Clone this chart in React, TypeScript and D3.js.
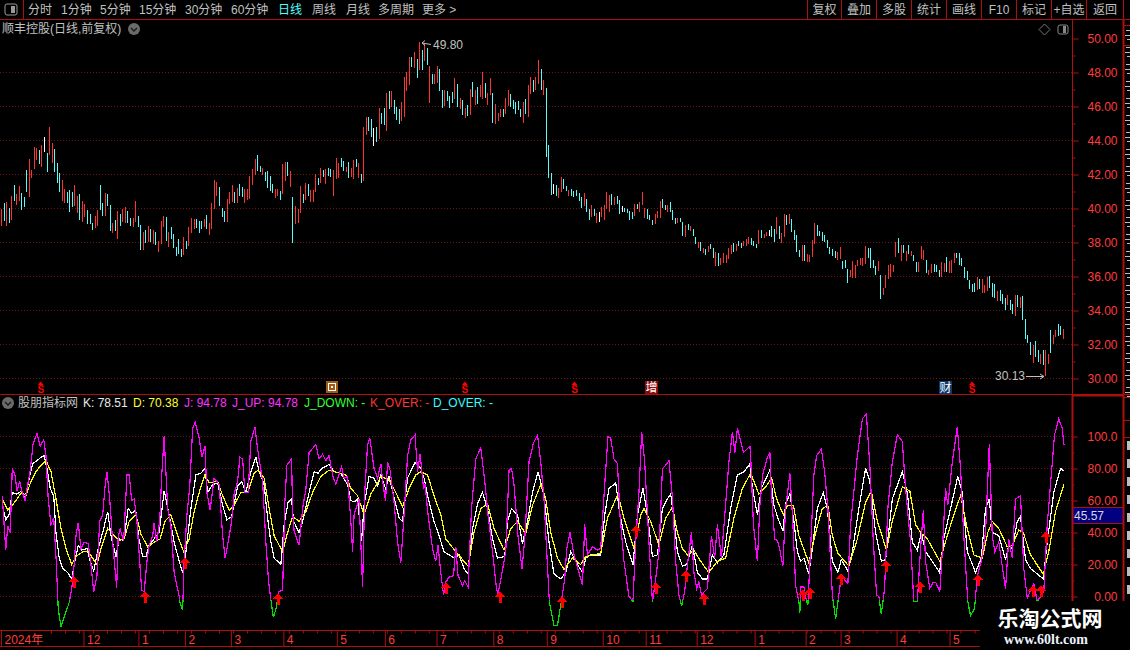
import React, { useEffect, useRef } from 'react';
import * as d3 from 'd3';

const WIDTH = 1130;
const HEIGHT = 650;

// daily bars: high, low, and r(ed) / c(yan) / w(hite) for the direction
const barHigh = [
  40.00,40.33,40.37,40.02,40.73,41.37,40.86,41.31,40.92,40.67,
  42.25,42.92,42.29,43.61,43.57,43.47,43.71,44.20,43.27,44.78,
  43.84,43.49,42.65,42.10,41.67,41.12,40.98,41.08,40.98,41.37,
  40.73,40.86,40.43,40.27,39.94,39.65,39.16,39.55,39.94,41.37,
  40.33,40.92,40.86,40.20,39.16,39.35,39.88,39.65,40.00,40.08,
  39.88,
  39.45,39.45,40.43,39.55,39.02,38.63,38.73,38.96,38.78,38.73,
  38.60,38.08,39.25,39.55,39.50,38.60,38.90,38.50,37.73,38.20,
  37.60,38.30,38.08,38.90,39.43,39.37,39.37,39.25,39.25,39.37,
  39.60,39.14,40.30,41.67,41.55,41.25,40.02,39.84,40.55,40.96,
  41.37,40.96,41.20,41.43,41.25,41.14,41.14,41.90,42.31,
  42.90,43.14,42.49,42.37,42.14,42.20,41.90,41.43,41.14,41.14,
  41.02,42.61,42.73,42.73,42.20,40.67,40.14,39.96,41.31,40.84,
  41.49,41.43,41.08,41.08,42.02,41.78,42.37,42.25,42.31,42.37,
  42.31,42.25,42.96,42.67,42.96,42.78,42.43,42.73,42.37,42.84,
  42.90,42.67,42.02,44.78,45.37,45.37,45.25,44.73,44.78,45.90,
  45.61,45.90,46.78,46.90,46.90,46.37,45.96,45.84,46.25,47.73,
  48.02,48.90,48.90,49.20,48.78,49.80,49.31,49.67,49.43,48.37,
  47.90,47.90,48.37,48.20,46.96,46.96,46.90,46.61,46.84,47.67,
  47.31,46.49,46.37,45.90,46.08,47.02,47.43,46.96,47.14,47.25,
  48.02,47.37,46.78,47.67,46.78,46.14,45.61,45.84,45.84,46.49,
  46.96,46.73,46.37,46.25,46.31,45.84,46.25,46.43,47.25,47.73,
  47.55,47.73,48.73,
  48.20,47.55,47.08,43.73,42.08,41.43,41.37,41.20,41.84,41.73,
  41.31,41.08,41.14,41.02,41.08,40.90,40.67,40.90,40.55,39.96,
  40.20,39.96,39.73,39.78,40.08,40.20,40.96,40.78,40.84,40.67,
  40.73,40.49,40.14,40.02,39.96,39.84,39.78,40.25,40.25,40.37,
  40.96,40.02,39.96,39.61,39.31,39.67,39.84,40.43,40.55,40.20,
  40.20,40.37,39.90,39.43,39.43,39.43,39.20,39.02,39.08,38.96,
  38.78,38.31,38.02,38.02,37.67,37.61,37.78,37.90,37.67,37.43,
  37.37,37.08,37.37,37.25,37.67,37.84,37.96,37.90,38.08,37.96,
  38.08,38.20,38.31,38.25,38.08,37.90,38.73,38.73,38.49,38.61,
  38.73,38.96,38.78,39.49,38.96,38.55,39.67,39.61,39.67,39.37,
  38.73,38.43,37.55,
  37.84,37.84,37.31,37.25,38.12,39.14,39.02,38.67,38.61,38.43,
  38.14,37.73,37.61,37.49,37.43,37.73,36.90,37.00,36.43,36.37,
  36.90,36.67,36.96,37.08,37.08,37.78,37.67,37.67,36.96,36.61,
  36.90,36.08,35.31,36.08,36.67,36.73,36.67,38.02,38.25,37.88,
  37.84,37.49,37.84,37.49,37.25,36.84,36.84,37.78,37.55,36.96,
  36.37,36.73,36.73,36.67,36.37,36.84,36.78,37.14,36.90,36.96,
  37.37,37.37,37.37,37.08,36.55,36.31,35.78,35.55,35.61,35.96,
  35.84,35.84,35.49,35.96,36.02,35.61,35.55,35.14,35.20,34.96,
  34.73,34.90,34.61,34.37,34.90,34.90,34.78,34.84,33.49,32.55,
  32.14,31.96,32.20,31.67,31.43,31.67,31.67,31.43,32.84,32.55,
  32.84,33.20,33.08,32.90,
];
const barLow = [
  38.96,39.25,38.96,39.16,39.35,40.43,40.20,40.43,39.90,40.08,
  40.96,40.69,41.80,42.33,42.88,42.59,42.43,43.33,42.14,43.12,
  42.69,42.14,41.51,40.98,40.47,40.33,40.33,39.80,40.08,40.14,
  39.71,39.35,39.22,39.49,39.10,39.10,38.76,38.86,38.96,39.94,
  39.55,39.55,40.14,38.67,38.57,38.67,38.20,38.96,39.22,39.16,
  39.16,
  39.00,38.92,39.20,38.92,37.55,37.55,37.96,38.02,38.02,37.92,
  37.84,37.43,37.92,38.92,38.08,37.73,38.20,37.67,37.20,37.30,
  37.14,37.25,37.60,37.78,38.55,38.78,38.84,38.55,38.78,38.90,
  38.78,38.43,38.78,39.96,40.73,40.14,39.50,39.20,39.20,40.25,
  40.37,40.30,40.30,40.73,40.67,40.30,40.50,40.55,41.37,
  42.00,42.20,42.14,41.96,41.61,41.20,41.02,40.90,40.61,40.73,
  40.49,40.84,41.61,41.90,41.25,37.98,39.08,39.14,39.73,40.31,
  40.49,40.73,40.37,40.37,40.96,41.37,41.49,41.84,41.43,41.90,
  41.84,40.73,41.73,41.78,42.43,42.20,42.14,41.78,41.84,41.73,
  42.43,41.78,41.49,41.61,44.31,44.55,44.20,43.67,43.90,44.08,
  44.96,44.90,44.55,45.84,45.96,45.55,45.20,44.96,45.14,45.37,
  46.90,47.25,48.31,48.25,47.67,48.14,48.14,48.67,48.43,46.20,
  47.31,47.31,47.37,46.90,45.90,46.02,46.31,45.90,46.20,46.43,
  45.96,45.84,45.49,45.31,45.43,45.49,46.55,46.08,46.14,46.55,
  46.43,46.49,46.08,46.67,45.02,44.96,45.14,45.37,45.37,45.55,
  46.02,45.96,45.84,45.55,45.78,45.37,45.02,45.55,45.37,46.73,
  46.84,46.96,47.31,
  46.96,46.67,43.02,41.78,40.78,40.84,40.73,40.61,40.96,41.14,
  41.02,40.73,40.73,40.67,40.73,40.43,40.02,40.14,39.78,39.31,
  39.49,39.55,39.14,39.20,39.49,39.31,39.96,39.78,40.20,40.20,
  40.25,39.67,39.78,39.78,39.73,39.31,39.37,39.55,39.96,39.78,
  40.20,39.43,39.37,39.31,39.02,39.08,39.43,39.43,40.02,39.90,
  39.78,39.78,39.31,39.08,39.14,39.20,38.37,38.31,38.73,38.67,
  38.37,37.90,37.67,37.49,37.37,37.25,37.43,37.61,37.08,36.61,
  36.61,36.67,36.78,36.78,37.02,37.31,37.43,37.49,37.78,37.67,
  37.78,37.78,37.90,37.84,37.78,37.67,37.90,38.25,38.25,38.37,
  38.37,38.31,38.02,38.49,38.20,37.96,38.31,39.02,39.08,38.61,
  38.14,37.43,37.14,
  36.90,36.90,36.84,36.84,37.14,37.90,38.37,38.37,38.08,38.02,
  37.67,37.35,37.20,37.08,36.96,37.02,36.43,36.51,35.61,35.96,
  35.90,35.90,36.61,36.67,36.61,36.73,37.08,36.49,36.49,36.08,
  36.31,34.67,34.90,35.31,35.84,35.96,36.25,37.14,37.37,36.90,
  37.37,36.90,37.31,37.20,36.90,36.25,36.25,37.02,36.96,36.20,
  36.08,36.20,36.25,36.25,35.96,35.96,36.25,36.25,36.20,36.20,
  36.78,37.08,36.67,36.61,35.90,35.78,35.25,35.08,35.08,35.20,
  35.25,35.02,35.02,35.14,35.31,34.78,34.73,34.55,34.55,34.37,
  34.02,34.31,34.02,33.78,33.67,34.20,34.14,33.43,32.31,32.08,
  31.37,30.90,31.25,30.96,30.84,30.78,30.13,30.84,31.49,32.02,
  32.43,32.49,32.55,32.31,
];
const barKind = (
  'rcrcrcrrcc' + 'crrrrcrwcr' + 'rcccrrcccr' + 'rcrrcccrrc' + 'crccrcrcrr' + 'c' +
  'crrccrcrcr' + 'crrrcrcccc' + 'crcrrrcccr' + 'crrrrcccrr' + 'rcrccrrrr' +
  'rccrccccrr' + 'crrcrcrrrc' + 'rcrrrcrcrc' + 'crrrccrcrr' + 'crcrrccwcr' + 'ccrcrcccrr' +
  'rrcrcrcrcr' + 'crrccrcccr' + 'crcrcrcrcr' + 'rcrrcrrrcr' + 'rcccccrcrr' + 'crr' +
  'crcccwcrrc' + 'crcccccrcc' + 'rcrwrrrrcr' + 'ccwccccrcr' + 'rrcccrrrcc' + 'rcccrccrcr' +
  'ccrcrcrccr' + 'crrrrrcrcc' + 'rrrcccrcrr' + 'wccrcrrcrc' + 'ccc' +
  'rcrrrrcccc' + 'ccccrrcccr' + 'rrrrrrcccc' + 'rcrrrrrrcr' + 'crcrccrrrc' + 'rrcccrrcrr' +
  'rccccccccr' + 'crrrcccrcc' + 'crccrcrccc' + 'crccrcrrcr' + 'rccr'
).split('');

const priceMajor = [30, 32, 34, 36, 38, 40, 42, 44, 46, 48, 50];
const priceMinor = [31, 33, 35, 37, 39, 41, 43, 45, 47, 49];
const kdjMajor = [0, 20, 40, 60, 80, 100];
const kdjMinor = [10, 30, 50, 70, 90];

// month starts on the date axis, as session numbers of the indicator pane
const monthBars = [0, 33, 55, 73.6, 92, 113, 134.4, 153.6, 174.3, 197, 218.4, 240.8, 258, 278.4, 301.6, 322, 336, 358.4, 379.6];
const monthLabels = ['2024年', '12', '1', '2', '3', '4', '5', '6', '7', '8', '9', '10', '11', '12', '1', '2', '3', '4', '5'];

// turning points of the three KDJ lines: [session, value]
const jPoints: [number, number][] = [
  [0.5,63],[1.9,29],[2.7,44],[3.7,40],[4.5,80],[5.6,76],[6.4,66],[7.5,72],[8.3,66],[9.6,60],[11.7,79],[12.8,95],[14.4,102],[15.7,94],[17.1,98],[18,88],[18.9,61],[20,45],[21.1,49],[22.1,22],[22.9,-7.5],[24,-19],[26,-9.6],[27.3,-3.75],[28.3,5],[29.3,20],[30,38],[30.9,46],[32,30],[33.3,34],[34.9,33],[36,20],[37.1,3],[38.4,13],[39.5,47],[40.7,51],[41.6,68],[42.4,78],[43.5,61],[44.7,34],[45.6,17.5],[46.3,5.4],[46.9,38],[47.7,42],[49.1,35],[50.4,76],[51.3,76],[52.3,60],[53.3,61],[54.4,47],[55.5,22],[56.3,4],[57.3,3],[58.4,22],[59.3,32],[60.7,38],[61.3,46],[62.3,34],[63.5,47],[64.4,78],[65.3,100],[66.7,55],[68,44],[69.3,15],[71.3,0],[71.6,-3.6],[72.7,-8.5],[73.3,22],[74.4,51],[75.5,68],[76.7,105],[77.7,109],[79.3,99],[80.4,87],[81.6,94],[82.4,65],[83.7,54],[85.3,74],[87.3,70],[88.7,38],[89.7,24],[90.9,34],[92.3,47],[93.3,64],[94.7,72],[95.6,87],[96.7,86],[97.6,65],[98.9,65],[100,97],[101.6,106],[102.7,92],[104.7,72],[106,34],[107.1,9],[108.3,-5.4],[109,-13],[110.1,-7.5],[111.1,3],[112.7,4],[113.6,59],[114.4,82],[116.3,86],[116.7,53],[117.3,41],[119.3,32],[120.7,55],[122,67],[123.3,90],[126,95],[127.3,86],[128.7,89],[130,85],[131.3,88],[132.7,76],[134,70],[136.3,81],[137.3,74],[138.7,75],[140,47],[140.7,28],[141.3,51],[143.3,61],[144.7,6],[145.6,66],[146.7,95],[147.6,99],[149.3,80],[150.7,74],[152,83],
  [153.1,67.5],[153.9,60],[154.7,84],[155.7,79],[157.3,59],[158.7,34],[160,21],[161.3,51],[162.7,88],[164,98],[165.7,101],[166.7,78],[167.7,89],[169.1,67.5],[169.7,70],[170.9,51],[172.7,30],[174,22],[174.9,32],[176,15],[177.1,1],[178,9],[179.3,12],[181.1,13],[182,31],[182.9,13],[184.7,7],[185.6,10],[186.9,6],[188.3,55],[190,86],[192,93],[193.6,72],[194.9,51],[196.7,28],[198.3,5],[198.9,2],[199.7,8],[202,28],[203.3,79],[204.3,80],[205.3,70],[206.9,38],[208.5,17.5],[209.6,36],[211.3,84],[213.1,96],[214.7,101],[216,84],[217.3,61],[219.3,1],[219.5,-3.75],[221.3,-18],[222.7,-18],[224,-5.4],[225.6,11],[226.4,30],[227.7,40],[229.3,26],[231.3,15],[232.7,7],[233.6,45],[234.7,26],[236.7,31],[238.7,29],[240,30],[241.6,70],[242.9,100],[244,99],[245.3,86],[246.7,83],[247.7,51],[249.3,22],[251.3,0],[252.9,-3],[254,34],[255.3,65],[256.4,103],[257.6,84],[259.3,34],[260.7,-3.3],[262,11],[263.3,28],[264.7,80],[266,82],[267.3,85],[268.7,62],[270,22],[271.3,1],[272.4,-6],[273.6,3],[274.7,20],[276.3,40],[277.3,15],[278.4,5],[279.3,9],[280.3,1],[282.7,5],[284.3,38],[285.6,24],[286.7,45],[288.3,24],[291.3,84],[292.7,103],[293.7,90],[294.7,105],[297.1,90],[299.7,94],
  [300,88],[301.1,45],[302.7,22],[303.7,57],[304.8,76],[306.7,87],[307.7,90],[308.3,65],[309.6,36],[310.7,35],[311.7,29],[312.9,19],[314,55],[315.7,77],[316.8,49],[318,7],[319.3,-3.3],[319.7,-10],[320,6],[321.3,6],[322.4,-3.3],[322.9,-5.4],[324,30],[325.3,76],[326.4,88],[328.3,92],[329.6,78],[330.9,55],[332.7,1],[334,-14],[335.3,1],[336.3,13],[338.9,8],[340,45],[342.7,88],[344.7,111],[346.3,114],[347.7,82],[349.1,34],[350.4,1],[351.3,0],[352.3,-11],[353.6,5],[354.9,55],[356.7,84],[358.7,101],[360.7,97],[362,67.5],[364,34],[365.3,-3.3],[366.7,-3.3],[368,30],[369.1,54],[370,22],[371.7,5],[373.1,9],[374,9],[375.7,3],[376.7,28],[378,67.5],[378.9,57],[380.7,84],[382.7,106],[384,80],[385.3,38],[386.9,-3.3],[388,-12],[389.6,-7.5],[390.7,13],[392.3,22],[394,40],[395.5,95],[396.7,38],[397.7,28],[399.3,34],[402,5],[403.3,36],[404.7,24],[406,61],[408,63],[409.3,17.5],[410.7,-1],[412.3,5],[413.3,8],[414.7,-3],[417.3,3],[418.7,45],[420,70],[421.6,101],[423.3,111],[424.7,105],[425.4,94.78],
];
const kPoints: [number, number][] = [
  [0.5,57],[1.9,48],[3.2,51],[4.5,65],[6.4,64],[8.3,66],[9.6,61],[11.3,74],[12.7,83],[14.4,85],[16,87],[17.3,88],[18.4,80],[19.7,67.5],[21.1,63],[22,40],[23.3,24],[24.7,17.5],[26.7,15],[28.3,11],[29.3,20],[30.9,32],[32.3,29],[34.4,30],[35.7,22],[37.1,16],[38.9,30],[40.7,40],[42.7,53],[44,38],[46,25],[47.3,36],[49.1,35],[50.9,55],[52.3,52],[53.9,54],[55.2,36],[56.7,25],[58,25],[59.3,32],[61.3,36],[63.3,40],[65.3,66],[67.3,51],[69.3,34],[71.3,22],[72.7,15],[74,28],[76,55],[78,76],[80,77],[81.6,80],[82.7,65],[84.7,70],[86.7,71],[88.7,57],[90.4,48],[92.3,50],[94.7,69],[96.3,72],[98,65],[100,78],[102,87],[103.3,78],[105.3,70],[106.7,49],[108,34],[109.3,24],[112,20],[113.3,45],[114.9,59],[116.3,61],[117.1,47],[119.3,40],[120.7,47],[122.7,61],[125.3,78],[126.9,77],[128.3,80],[131.3,82.5],[133.3,78],[136,77],[138.7,70],[140,60],[141.3,59],[142.7,61],[144.3,35],[145.3,57],[147.3,75],[149.3,74],[150.7,69],
  [152,76],[153.9,67.5],[155.3,75],[157.3,62],[159.3,49],[160.7,47],[162.7,74],[165.7,84],[168,80],[169.3,74],[171.3,59],[173.3,47],[175.3,38],[177.3,28],[179.3,26],[181.6,24],[183.3,26],[185.3,17.5],[186.9,14],[188.7,42.5],[190.7,58],[192.7,65],[194.7,55],[196.7,36],[198.7,24],[201.6,25],[202.7,47],[204.3,55],[206.7,51],[208.7,33],[210.7,47],[212.7,65],[214.9,78],[217.3,63],[219.3,34],[221.3,14],[224,11],[226,15],[228,28],[230.7,20],[232.7,15],[234,24],[236,26],[240,26],[241.6,51],[243.3,67.5],[246,71],[247.7,51],[250,34],[252.9,20],[254.7,51],[256.9,68],[258.7,51],[260.7,25],[262.7,26],[264.7,55],[266.7,61],[268,64],[269.3,49],[270.7,28],[272.7,19],[274.4,20],[276.7,32],[278.7,15],[280.7,11],[282.7,11],[284.7,26],[286.7,21],[289.3,26],[292,55],[294.7,76],[297.3,78],[299.7,83],
  [300,76],[301.3,63],[302.7,51],[304.3,67.5],[307.7,79],[309.3,57],[310.9,49],[312.9,41],[314,58],[315.7,64],[317.3,47],[318.7,28],[320,22],[321.3,24],[323.3,14],[324.7,30],[326.7,55],[329.1,65],[330.7,55],[332.7,22],[334.9,15],[336.3,23],[338.9,16],[340.7,28],[343.3,55],[346,80],[347.7,72],[350,40],[352.3,22],[354,23],[356.7,61],[360.7,78],[362.7,65],[364.7,34],[366.7,29],[368.3,40],[370,28],[372.7,22],[375.6,15],[377.3,36],[380,55],[382.9,75],[384.7,65],[386.7,28],[390,15],[392.3,24],[394,55],[395.5,61],[396.7,40],[399.3,38],[402,23],[403.3,32],[404.7,30],[406.7,47],[408,50],[410,23],[412,17.5],[414,15],[417.1,11],[418.7,34],[421.3,65],[424,80],[425.4,78.51],
];
const dPoints: [number, number][] = [
  [0.5,61],[2.7,54],[4.5,57],[6.4,61],[8.3,65],[10,63],[12,72],[14,78],[16,82],[18,85],[20,78],[22,61],[24,42.5],[26,30],[28.3,20],[30,25],[32.7,28],[34.9,28],[38.4,20],[40,30],[42.7,42.5],[45.3,38],[47.3,35],[49.3,36],[51.3,47],[54,51],[56,39],[58.7,31],[61.3,34],[63.7,36],[65.6,47],[68,51],[70.7,38],[73.1,28],[75.3,36],[77.3,53],[79.3,65],[81.6,76],[83.3,71],[86.7,72],[88.7,63],[91.3,54],[93.3,57],[96,65],[98.7,65],[101.3,77],[102.9,79],[105.3,74],[107.3,55],[109.3,38],[112.7,28],[114.7,40],[116.7,50],[119.3,47],[122,53],[124.7,65],[128,75],[131.3,79],[134.7,77.5],[138,76],[140,67.5],[142.7,63],[145.3,51],[148,64],[150.7,71],
  [152,75],[155.3,73],[158,65],[160.7,56],[163.3,67.5],[166,76],[168,78],[170.7,76],[173.3,63],[176,51],[178,36],[182,28],[186.9,19],[189.3,40],[192,55],[194.7,58],[197.3,42.5],[201.3,29],[204,42.5],[206.7,47],[210,39],[212.7,57],[216,70],[218,61],[220,40],[222.7,24],[225.3,17],[228.7,24],[232,20],[234,25],[240,27],[242.7,49],[246.9,64],[249.3,49],[253.3,30],[256,51],[257.3,55],[260,47],[263.3,32],[266,49],[268.7,56],[270.7,40],[272.7,30],[274.7,26],[277.3,29],[280,22],[283.3,15],[286.7,22],[290,24],[293.3,49],[296.7,67.5],[300,77],
  [303.3,64],[306,68.5],[308.4,74],[310.4,61],[313.1,51],[314.7,57],[317.1,57],[319.3,38],[323.3,21],[326,40],[328.7,55],[330.9,57],[332.7,38],[334.9,27],[339.3,19],[342.7,36],[346,59],[348.3,66],[350.7,47],[354.4,29],[356.7,47],[360.7,68.5],[363.7,66],[366,45],[368,40],[370.7,36],[375.7,22],[378.7,38],[381.3,51],[384,63],[386.7,42.5],[389.3,26],[392.7,24],[394.9,40],[396.7,47],[399.3,42.5],[402.7,31],[404.7,32],[407.3,41.5],[409.1,40],[412,26],[417.1,14],[419.3,28],[422,53],[425.4,70.38],
];

// buy signals: session and the indicator value at the arrow tip
const arrowBars = [29.1, 57.5, 73.5, 111, 177.9, 199.6, 224.7, 254.3, 262.3, 274.3, 281.5, 320.9, 323.9, 336.3, 354.3, 367.6, 391, 413, 416.3, 418.3];
const arrowValues = [12.7, 3.5, 24.6, 2.3, 9, 3.5, 0.2, 45, 9, 16.5, 2.3, 5, 6, 14.4, 22.7, 9.6, 14, 7, 7, 41];

const dividendBars = [15.9, 185.6, 229.5, 388.6];
const toolbarLeft: [string, number][] = [['分时', 28], ['1分钟', 61], ['5分钟', 100], ['15分钟', 139], ['30分钟', 185], ['60分钟', 231], ['周线', 312], ['月线', 346], ['多周期', 378], ['更多 >', 422]];
const toolbarRight = ['复权', '叠加', '多股', '统计', '画线', 'F10', '标记', '+自选', '返回'];
const toolbarEdges = [807, 841, 876, 911, 946, 981, 1016, 1051, 1086, 1123];
const headerItems: [string, number, string][] = [
  ['K: 78.51', 83, '#e8e8e8'], ['D: 70.38', 133, '#ffff33'], ['J: 94.78', 184, '#ff33ff'], ['J_UP: 94.78', 232, '#ff33ff'],
  ['J_DOWN: -', 304, '#33ff33'], ['K_OVER: -', 370, '#ff3333'], ['D_OVER: -', 433, '#33ffff'],
];

const RED = '#ad0f0f';
const LABEL_RED = '#ff3c3c';
const GREY = '#c0c0c0';
const FONT = '"Liberation Sans", "Noto Sans CJK SC", sans-serif';

const App: React.FC = () => {
  const svgRef = useRef<SVGSVGElement | null>(null);

  useEffect(() => {
    if (!svgRef.current) return;
    const svg = d3.select(svgRef.current);
    svg.selectAll('*').remove();

    svg.append('rect').attr('width', WIDTH).attr('height', HEIGHT).attr('fill', '#000');

    const label = (t: string, x: number, y: number, color = GREY, size = 12, anchor = 'start') =>
      svg.append('text').attr('x', x).attr('y', y).attr('fill', color).attr('font-size', size)
        .attr('font-family', FONT).attr('text-anchor', anchor).text(t);
    const hline = (x1: number, x2: number, y: number, w = 1) =>
      svg.append('line').attr('x1', x1).attr('x2', x2).attr('y1', y).attr('y2', y).attr('stroke', RED).attr('stroke-width', w);
    const vline = (x: number, y1: number, y2: number, w = 1) =>
      svg.append('line').attr('x1', x).attr('x2', x).attr('y1', y1).attr('y2', y2).attr('stroke', RED).attr('stroke-width', w);

    // Scales: bars were counted per region, so their grid is anchored at a few read positions
    const n = barHigh.length;
    const barX = d3.scaleLinear().domain([0, 51, 99, 212, 315, n - 1]).range([1, 130, 252, 538, 799, 1063]);
    const sessionX = d3.scaleLinear().domain([0, 425.4]).range([1, 1064]);
    const priceY = d3.scaleLinear().domain([30, 50]).range([378.5, 38.5]);
    const kdjY = d3.scaleLinear().domain([0, 100]).range([596.5, 436.5]);

    // Dotted grid
    const grid = svg.append('g').attr('stroke', '#6f1414').attr('stroke-dasharray', '1 2').attr('shape-rendering', 'crispEdges');
    priceMajor.filter((p) => p < 50).forEach((p) => {
      grid.append('line').attr('x1', 0).attr('x2', 1072).attr('y1', priceY(p)).attr('y2', priceY(p));
    });
    kdjMajor.forEach((v) => {
      grid.append('line').attr('x1', 0).attr('x2', 1072).attr('y1', kdjY(v)).attr('y2', kdjY(v));
    });

    // Price bars
    const barColor: Record<string, string> = { r: '#ff3232', c: '#54fcfc', w: '#ffffff' };
    svg.append('g').attr('shape-rendering', 'crispEdges')
      .selectAll('rect').data(barHigh).enter().append('rect')
      .attr('x', (_, i) => Math.round(barX(i)))
      .attr('width', 1)
      .attr('y', (d) => Math.round(priceY(d)))
      .attr('height', (d, i) => Math.max(1, Math.round(priceY(barLow[i])) - Math.round(priceY(d))))
      .attr('fill', (_, i) => barColor[barKind[i]]);

    // KDJ lines
    const line = d3.line<[number, number]>().x((d) => sessionX(d[0])).y((d) => kdjY(d[1])).curve(d3.curveLinear);
    const defs = svg.append('defs');
    defs.append('clipPath').attr('id', 'above').append('rect').attr('x', 0).attr('y', 0).attr('width', 1072).attr('height', kdjY(-2));
    defs.append('clipPath').attr('id', 'below').append('rect').attr('x', 0).attr('y', kdjY(-2)).attr('width', 1072).attr('height', 60);
    const lines = svg.append('g').attr('fill', 'none').attr('shape-rendering', 'crispEdges').attr('stroke-width', 1.2);
    lines.append('path').attr('d', line(kPoints)).attr('stroke', '#ffffff');
    lines.append('path').attr('d', line(dPoints)).attr('stroke', '#ffff00');
    lines.append('path').attr('d', line(jPoints)).attr('stroke', '#ff00ff').attr('clip-path', 'url(#above)');
    lines.append('path').attr('d', line(jPoints)).attr('stroke', '#00e000').attr('clip-path', 'url(#below)');

    // Buy arrows
    svg.append('g').attr('fill', '#ff0000').attr('shape-rendering', 'crispEdges')
      .selectAll('path').data(arrowBars).enter().append('path')
      .attr('transform', (d, i) => `translate(${Math.round(sessionX(d))},${Math.round(kdjY(arrowValues[i]))})`)
      .attr('d', 'M0,0 L5,6 L1.5,6 L1.5,12 L-1.5,12 L-1.5,6 L-5,6 Z');

    // Frame and toolbar
    hline(0, WIDTH, 19.5);
    vline(23.5, 0, 19);
    toolbarEdges.forEach((x) => vline(x + 0.5, 0, 19));
    vline(1072.5, 19, 394);
    vline(1072.5, 395, 601, 2);
    vline(1123.5, 19, 601, 2);
    [25.5, 45.5, 336.5, 397.5, 420.5, 437.5].forEach((y) => hline(1124, WIDTH, y));
    hline(0, WIDTH, 394.5);
    hline(1073, 1124, 395.5, 2);

    svg.append('rect').attr('x', 5).attr('y', 4).attr('width', 12).attr('height', 11).attr('rx', 2).attr('fill', 'none').attr('stroke', '#999');
    svg.append('rect').attr('x', 11).attr('y', 6).attr('width', 4).attr('height', 7).attr('fill', '#999');
    toolbarLeft.forEach(([t, x]) => label(t, x, 14));
    label('日线', 278, 14, '#54fcfc');
    toolbarRight.forEach((t, i) => label(t, (toolbarEdges[i] + toolbarEdges[i + 1]) / 2 + 0.5, 14, GREY, 12, 'middle'));

    // Title row of both panes
    const chevron = (x: number, y: number) => {
      svg.append('circle').attr('cx', x).attr('cy', y).attr('r', 6).attr('fill', '#6a6a6a');
      svg.append('path').attr('d', `M${x - 3},${y - 1} L${x},${y + 2} L${x + 3},${y - 1}`).attr('fill', 'none').attr('stroke', '#1a1a1a').attr('stroke-width', 1.4);
    };
    label('顺丰控股(日线,前复权)', 2, 33);
    chevron(134, 29);
    svg.append('path').attr('d', 'M1044.5,24 L1050,29.5 L1044.5,35 L1039,29.5 Z').attr('fill', 'none').attr('stroke', '#777');
    svg.append('rect').attr('x', 1058).attr('y', 25).attr('width', 10).attr('height', 9).attr('rx', 2).attr('fill', 'none').attr('stroke', '#888');
    svg.append('rect').attr('x', 1063).attr('y', 26).attr('width', 3).attr('height', 7).attr('fill', '#888');
    chevron(8, 403);
    label('股朋指标网', 18, 407);
    headerItems.forEach(([t, x, c]) => label(t, x, 407, c));

    // High and low notes
    label('49.80', 433, 49);
    svg.append('path').attr('d', 'M431,44.5 L422,43 M422,43 L425,40.5 M422,43 L425,45.5').attr('stroke', GREY).attr('fill', 'none');
    label('30.13', 995, 380);
    svg.append('path').attr('d', 'M1026,376.5 L1044,376.5 M1044,376.5 L1040,374 M1044,376.5 L1040,379').attr('stroke', GREY).attr('fill', 'none');

    // Event markers above the separator
    dividendBars.forEach((b) => {
      const x = sessionX(b);
      svg.append('path').attr('d', `M${x},381.5 L${x + 3},385 L${x - 3},385 Z`).attr('fill', '#ff0000');
      label('S', x, 393, '#ff0000', 10, 'middle').attr('font-weight', 700);
    });
    svg.append('rect').attr('x', 326).attr('y', 381).attr('width', 12).attr('height', 12).attr('fill', '#a05a14');
    svg.append('rect').attr('x', 328.5).attr('y', 383.5).attr('width', 7).attr('height', 7).attr('fill', 'none').attr('stroke', '#fff');
    svg.append('rect').attr('x', 331).attr('y', 386).attr('width', 2).attr('height', 2).attr('fill', '#fff');
    svg.append('rect').attr('x', 645).attr('y', 381).attr('width', 13).attr('height', 13).attr('fill', '#8b0a0a');
    label('增', 651.5, 392, '#fff', 12, 'middle');
    svg.append('rect').attr('x', 939).attr('y', 381).attr('width', 13).attr('height', 13).attr('fill', '#0c3a6e');
    label('财', 945.5, 392, '#fff', 12, 'middle');

    // Right axes
    const styleAxis = (g: d3.Selection<SVGGElement, unknown, null, undefined>) => {
      g.select('.domain').remove();
      g.selectAll('line').attr('stroke', RED);
      g.selectAll('text').attr('x', 45).attr('fill', LABEL_RED).attr('font-size', 12).attr('font-family', FONT).attr('text-anchor', 'end');
    };
    const axisAt = (scale: d3.ScaleLinear<number, number>, values: number[], size: number, fmt: (d: number) => string) =>
      svg.append('g').attr('transform', 'translate(1072.5,0)')
        .call(d3.axisRight(scale).tickValues(values).tickSize(size).tickFormat((d) => fmt(d as number)))
        .call(styleAxis);
    const fmtPrice = d3.format('.2f');
    const fmtKdj = (d: number) => (d >= 100 ? d.toFixed(1) : d.toFixed(2));
    axisAt(priceY, priceMajor, 6, fmtPrice);
    axisAt(priceY, priceMinor, 3, () => '');
    axisAt(kdjY, kdjMajor, 5, fmtKdj);
    axisAt(kdjY, kdjMinor, 2, () => '');

    // Current value box
    svg.append('rect').attr('x', 1073).attr('y', 507.5).attr('width', 50).attr('height', 16).attr('fill', '#000080').attr('stroke', RED);
    label('45.57', 1074, 520, '#d8d8d8');

    // Date axis
    const dateAxis = svg.append('g').attr('transform', 'translate(0,630.5)')
      .call(d3.axisBottom(sessionX).tickValues(monthBars).tickSize(16).tickFormat((_, i) => monthLabels[i]));
    dateAxis.select('.domain').remove();
    dateAxis.selectAll('line').attr('stroke', RED);
    dateAxis.selectAll('text').attr('x', 3).attr('y', 13).attr('dy', 0).attr('fill', LABEL_RED)
      .attr('font-size', 12).attr('font-family', FONT).attr('text-anchor', 'start');
    const weekAxis = svg.append('g').attr('transform', 'translate(0,630.5)')
      .call(d3.axisBottom(sessionX).tickValues(d3.range(20, 392, 5.6)).tickSize(3).tickFormat(() => ''));
    weekAxis.select('.domain').remove();
    weekAxis.selectAll('line').attr('stroke', RED);
    hline(0, 980, 630.5);
    hline(0, 980, 646.5);

    // Cut-off side panel on the right edge, only glyph stubs are visible
    const side = svg.append('g').attr('fill', '#bdbdbd').attr('shape-rendering', 'crispEdges');
    d3.range(0, 22).forEach((i) => {
      side.append('rect').attr('x', 1126).attr('y', 30 + i * 17).attr('width', 4).attr('height', 1);
      side.append('rect').attr('x', 1125).attr('y', 35 + i * 17).attr('width', 5).attr('height', 1);
      side.append('rect').attr('x', 1127).attr('y', 39 + i * 17).attr('width', 3).attr('height', 1);
    });
    d3.range(0, 9).forEach((i) => {
      side.append('rect').attr('x', 1127).attr('y', 441 + i * 18).attr('width', 3).attr('height', 9);
    });

    // Watermark
    svg.append('rect').attr('x', 980).attr('y', 601).attr('width', 150).attr('height', 49).attr('fill', '#000');
    label('乐淘公式网', 1050, 626, '#ffffff', 21, 'middle').attr('font-weight', 700).attr('font-family', '"Noto Sans CJK SC"');
    label('www.60lt.com', 1046, 644, '#eaf2ff', 14, 'middle').attr('font-weight', 700).attr('font-family', '"Liberation Serif"');
  }, []);

  return <svg ref={svgRef} width={WIDTH} height={HEIGHT} style={{ position: 'absolute', left: 0, top: 0, display: 'block' }} />;
};

export default App;
